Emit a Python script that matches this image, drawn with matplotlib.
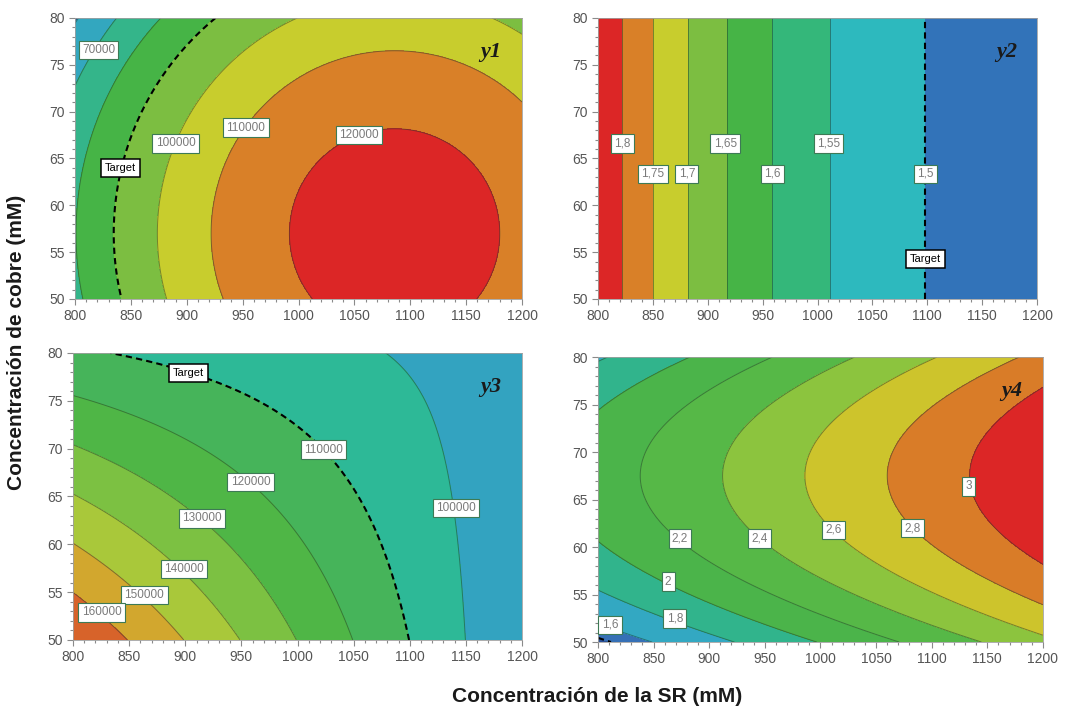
import numpy as np
import matplotlib
import matplotlib.pyplot as plt
from matplotlib.ticker import MultipleLocator

matplotlib.use('Agg')

# quadratic response surfaces in coded units
# u = (SR - 1000) / 200, v = (cobre - 65) / 15
# coef order: b0, u, v, u^2, v^2, u*v
y1_coef = [118300, 19000, -9400, -22100, -8800, 0]
y2_coef = [1.5597, -0.1745, 0, 0.1073, 0, 0]
y3_coef = [116500, -24000, -13300, 0, 0, 15850]
y4_coef = [2.625, 0.5405, 0.154, 0, -0.462, 0]

# contour levels and the target contour for each response
y1_levels = [60000, 70000, 80000, 90000, 100000, 110000, 120000]
y1_target = 90000
y2_levels = [1.5, 1.55, 1.6, 1.65, 1.7, 1.75, 1.8]
y2_target = 1.5
y3_levels = [100000, 110000, 120000, 130000, 140000, 150000, 160000]
y3_target = 110000
y4_levels = [1.5, 1.6, 1.8, 2.0, 2.2, 2.4, 2.6, 2.8, 3.0]
y4_target = 1.5

# label positions (SR, cobre) for the contour values
y1_labels = [(70000, 821, 76.6), (100000, 890, 66.6), (110000, 953, 68.3), (120000, 1054, 67.5)]
y1_target_pos = (841, 64.0)
y2_labels = [(1.8, 822, 66.6), (1.75, 850, 63.35), (1.7, 881, 63.35), (1.65, 916, 66.6),
             (1.6, 959, 63.35), (1.55, 1010, 66.6), (1.5, 1098, 63.35)]
y2_target_pos = (1098, 54.3)
y3_labels = [(110000, 1023, 69.9), (120000, 958, 66.5), (130000, 915, 62.7), (140000, 899, 57.4),
             (150000, 863.5, 54.7), (160000, 825.5, 52.9), (100000, 1141, 63.8)]
y3_target_pos = (902.7, 77.9)
y4_labels = [(3.0, 1133, 66.4), (2.8, 1083, 62.0), (2.6, 1011.5, 61.8), (2.4, 945.6, 60.9),
             (2.2, 873.7, 60.9), (2.0, 863, 56.35), (1.8, 869, 52.5), (1.6, 810.8, 51.8)]

# band colours, low to high
y1_colors = ['#2b5696', '#33a7bf', '#34b58a', '#46b446', '#7cbe41', '#c8cd2d', '#d98028', '#dc2626']
y2_colors = ['#3273b9', '#2db9be', '#34b77a', '#46b446', '#7cbe41', '#c8cd2d', '#d98028', '#dc2626']
y3_colors = ['#33a3c0', '#2db997', '#46b45a', '#4fb646', '#7cc142', '#a9c83a', '#d2a72e', '#d7632a']
y4_colors = ['#294f96', '#3670b6', '#33a8c2', '#31b48c', '#4bb44a', '#56b847', '#8cc43e', '#cdc42c',
             '#d97c28', '#dc2626']

sr = np.linspace(800, 1200, 401)
cu = np.linspace(50, 80, 301)


def surface(coef):
    X, Y = np.meshgrid(sr, cu)
    u = (X - 1000) / 200.0
    v = (Y - 65) / 15.0
    b0, bu, bv, buu, bvv, buv = coef
    return X, Y, b0 + bu * u + bv * v + buu * u * u + bvv * v * v + buv * u * v


def fmt(val, decimal):
    if decimal:
        return ('%g' % val).replace('.', ',')
    return '%d' % val


def label(ax, x, y, text, target=False):
    if target:
        ax.text(x, y, text, fontsize=8, color='black', ha='center', va='center', zorder=6,
                bbox=dict(boxstyle='square,pad=0.35', fc='white', ec='black', lw=1.1))
    else:
        ax.text(x, y, text, fontsize=8.5, color='#7a7a7a', ha='center', va='center', zorder=6,
                bbox=dict(boxstyle='square,pad=0.28', fc='white', ec='#3d7a55', lw=0.8))


def panel(ax, coef, levels, target, colors, labels, target_pos, tag, decimal):
    X, Y, Z = surface(coef)
    ax.contourf(X, Y, Z, levels=levels, colors=colors, extend='both')
    solid = [l for l in levels if l != target]
    ax.contour(X, Y, Z, levels=solid, colors='#1d3b2a', linewidths=0.7, alpha=0.5)
    ax.contour(X, Y, Z, levels=[target], colors='black', linewidths=1.5, linestyles=[(0, (3, 2))])
    for val, x, y in labels:
        label(ax, x, y, fmt(val, decimal))
    if target_pos is not None:
        label(ax, target_pos[0], target_pos[1], 'Target', target=True)
    ax.text(0.93, 0.88, tag, transform=ax.transAxes, fontsize=16, fontweight='bold',
            fontstyle='italic', family='Liberation Serif', color='#1a1a1a', ha='center', va='center')

    ax.set_xlim(800, 1200)
    ax.set_ylim(50, 80)
    ax.xaxis.set_major_locator(MultipleLocator(50))
    ax.xaxis.set_minor_locator(MultipleLocator(10))
    ax.yaxis.set_major_locator(MultipleLocator(5))
    ax.yaxis.set_minor_locator(MultipleLocator(1))
    ax.tick_params(which='both', direction='out', colors='#8a8a8a', labelcolor='#555555',
                   labelsize=10, width=0.8)
    ax.tick_params(which='major', length=4)
    ax.tick_params(which='minor', length=2)
    for s in ax.spines.values():
        s.set_color('#a0a0a0')
        s.set_linewidth(0.6)


def main():
    plt.rcParams['font.family'] = ['Liberation Sans', 'DejaVu Sans']
    fig = plt.figure(figsize=(10.79, 7.11), dpi=100)

    ax1 = fig.add_axes([0.0695, 0.5795, 0.4143, 0.3952])
    ax2 = fig.add_axes([0.5542, 0.5795, 0.4069, 0.3952])
    ax3 = fig.add_axes([0.0677, 0.0999, 0.4161, 0.4037])
    ax4 = fig.add_axes([0.5542, 0.0970, 0.4124, 0.4008])

    panel(ax1, y1_coef, y1_levels, y1_target, y1_colors, y1_labels, y1_target_pos, 'y1', False)
    panel(ax2, y2_coef, y2_levels, y2_target, y2_colors, y2_labels, y2_target_pos, 'y2', True)
    panel(ax3, y3_coef, y3_levels, y3_target, y3_colors, y3_labels, y3_target_pos, 'y3', False)
    panel(ax4, y4_coef, y4_levels, y4_target, y4_colors, y4_labels, None, 'y4', True)

    fig.text(0.553, 0.02, 'Concentración de la SR (mM)', fontsize=15, fontweight='bold',
             ha='center', va='center', color='#1a1a1a')
    fig.text(0.015, 0.518, 'Concentración de cobre (mM)', fontsize=15, fontweight='bold',
             rotation=90, ha='center', va='center', color='#1a1a1a')

    fig.savefig('out.png', dpi=100)


if __name__ == "__main__":
    main()
